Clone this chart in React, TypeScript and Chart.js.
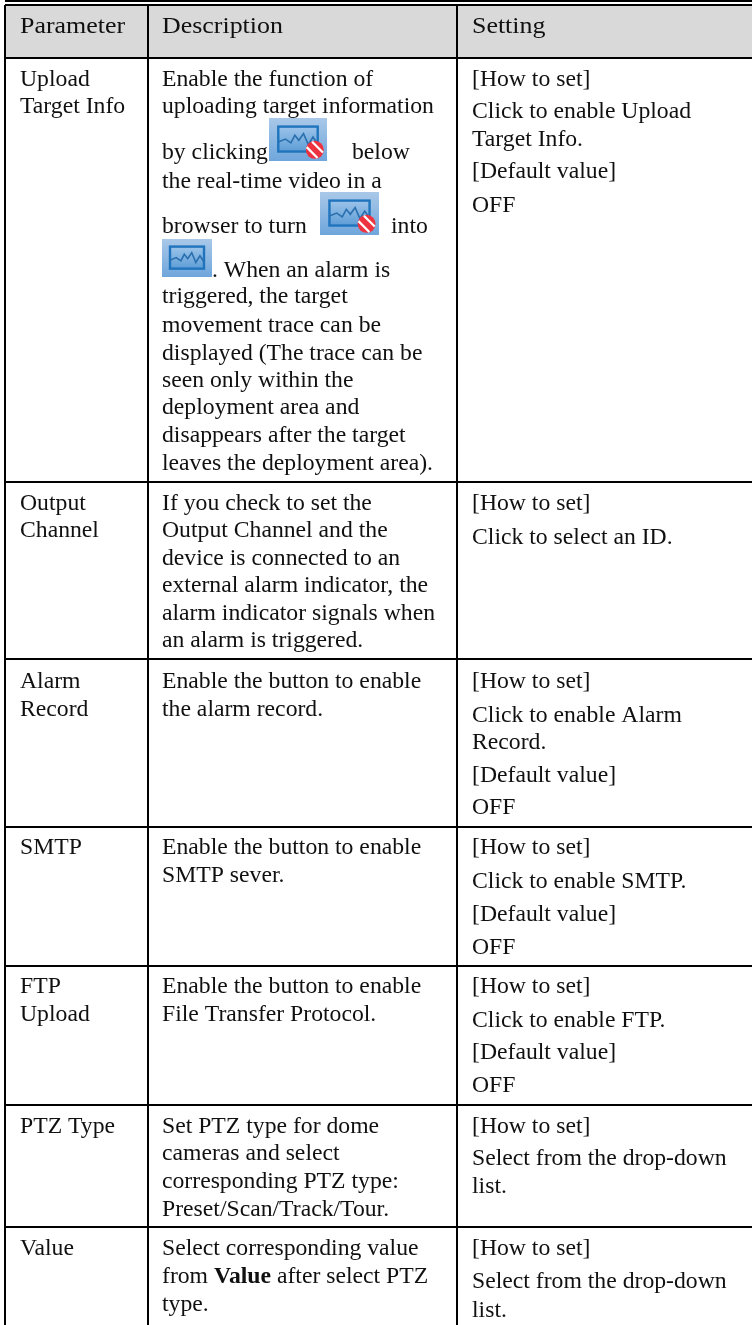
import React, { useEffect, useRef } from "react";
import { Chart, registerables } from "chart.js";

Chart.register(...registerables);

// ---- table content ----
const headers = ["Parameter", "Description", "Setting"];
const parameterLines = [
  ["Upload", "Target Info"],
  ["Output", "Channel"],
  ["Alarm", "Record"],
  ["SMTP"],
  ["FTP", "Upload"],
  ["PTZ Type"],
  ["Value"],
];
const descriptionLines = [
  [
    "Enable the function of",
    "uploading target information",
    "by clicking",
    "below",
    "the real-time video in a",
    "browser to turn",
    "into",
    ". When an alarm is",
    "triggered, the target",
    "movement trace can be",
    "displayed (The trace can be",
    "seen only within the",
    "deployment area and",
    "disappears after the target",
    "leaves the deployment area).",
  ],
  [
    "If you check to set the",
    "Output Channel and the",
    "device is connected to an",
    "external alarm indicator, the",
    "alarm indicator signals when",
    "an alarm is triggered.",
  ],
  ["Enable the button to enable", "the alarm record."],
  ["Enable the button to enable", "SMTP sever."],
  ["Enable the button to enable", "File Transfer Protocol."],
  [
    "Set PTZ type for dome",
    "cameras and select",
    "corresponding PTZ type:",
    "Preset/Scan/Track/Tour.",
  ],
  ["Select corresponding value", "from *Value* after select PTZ", "type."],
];
const settingLines = [
  ["[How to set]", "Click to enable Upload", "Target Info.", "[Default value]", "OFF"],
  ["[How to set]", "Click to select an ID."],
  ["[How to set]", "Click to enable Alarm", "Record.", "[Default value]", "OFF"],
  ["[How to set]", "Click to enable SMTP.", "[Default value]", "OFF"],
  ["[How to set]", "Click to enable FTP.", "[Default value]", "OFF"],
  ["[How to set]", "Select from the drop-down", "list."],
  ["[How to set]", "Select from the drop-down", "list."],
];

// ---- layout, on axes that run in page pixels ----
const columnEdges = [5, 147.5, 456.5];
const rowEdges = [5, 58, 482, 659, 827, 966, 1105, 1227];
const headerBaseline = 33;
const columnTextX = [20, 162, 472];
const parameterBaselines = [[86, 113], [510, 537], [688, 716], [854], [993, 1021], [1133], [1255]];
const descriptionBaselines = [
  [86, 113, 159, 159, 188, 233, 233, 277, 303, 332, 360, 387, 414, 442, 470],
  [510, 537, 565, 592, 620, 647],
  [688, 716],
  [854, 882],
  [993, 1021],
  [1133, 1160, 1188, 1216],
  [1255, 1283, 1311],
];
const descriptionOffsets: Record<string, number> = { below: 352, into: 391, ". When an alarm is": 212 };
const settingBaselines = [
  [86, 118, 146, 178, 212],
  [510, 544],
  [688, 722, 749, 782, 814],
  [854, 888, 921, 954],
  [993, 1027, 1059, 1092],
  [1133, 1165, 1193],
  [1255, 1288, 1317],
];
const iconBoxes = [
  { x: 269, y: 118, w: 58, h: 43, blocked: true },
  { x: 320, y: 192, w: 59, h: 43, blocked: true },
  { x: 162, y: 239, w: 50, h: 38, blocked: false },
];
// trace of the icon, as fractions of the icon's inner screen
const iconTraceX = [0, 0.18, 0.32, 0.42, 0.52, 0.64, 0.76, 0.88, 1];
const iconTraceY = [0.62, 0.5, 0.65, 0.35, 0.55, 0.28, 0.72, 0.42, 0.7];

const FONT = '"Liberation Serif"';
const BODY_SIZE = 23;
const BODY_STRETCH = 1.03;
const HEAD_SIZE = 24;
const HEAD_STRETCH = 1.08;
const INK = "#101010";

function drawRuns(ctx: CanvasRenderingContext2D, text: string, x: number, y: number, size: number, stretch: number) {
  ctx.save();
  ctx.translate(x, y);
  ctx.scale(stretch, 1);
  ctx.fillStyle = INK;
  ctx.textBaseline = "alphabetic";
  ctx.textAlign = "left";
  let cursor = 0;
  text.split("*").forEach((run, i) => {
    ctx.font = `${i % 2 ? "bold " : ""}${size}px ${FONT}`;
    ctx.fillText(run, cursor, 0);
    cursor += ctx.measureText(run).width;
  });
  ctx.restore();
}

function drawIcon(ctx: CanvasRenderingContext2D, x: number, y: number, w: number, h: number, blocked: boolean) {
  const bg = ctx.createLinearGradient(x, y, x, y + h);
  bg.addColorStop(0, "#a9c8e8");
  bg.addColorStop(1, "#6fa6dc");
  ctx.fillStyle = bg;
  ctx.fillRect(x, y, w, h);
  const sx = x + w * 0.16;
  const sy = y + h * 0.2;
  const sw = w * 0.68;
  const sh = h * 0.58;
  const fill = ctx.createLinearGradient(sx, sy, sx, sy + sh);
  fill.addColorStop(0, "#9cc4ea");
  fill.addColorStop(1, "#5e9dd6");
  ctx.fillStyle = fill;
  ctx.fillRect(sx, sy, sw, sh);
  ctx.strokeStyle = "#1f74bd";
  ctx.lineWidth = 2.4;
  ctx.strokeRect(sx, sy, sw, sh);
  ctx.strokeStyle = "#2a6fae";
  ctx.lineWidth = 1.6;
  ctx.beginPath();
  iconTraceX.forEach((fx, i) => {
    const px = sx + fx * sw;
    const py = sy + iconTraceY[i] * sh;
    if (i === 0) ctx.moveTo(px, py);
    else ctx.lineTo(px, py);
  });
  ctx.stroke();
  if (blocked) {
    const cx = x + w * 0.79;
    const cy = y + h * 0.74;
    const r = h * 0.21;
    ctx.fillStyle = "#ee3340";
    ctx.beginPath();
    ctx.arc(cx, cy, r, 0, Math.PI * 2);
    ctx.fill();
    ctx.strokeStyle = "#ffffff";
    ctx.lineWidth = 2.2;
    [-0.3, 0.3].forEach((o) => {
      ctx.beginPath();
      ctx.moveTo(cx - r * 0.6 + o * r, cy - r * 0.6 - o * r);
      ctx.lineTo(cx + r * 0.6 + o * r, cy + r * 0.6 - o * r);
      ctx.stroke();
    });
  }
}

const tablePlugin = {
  id: "tableCells",
  beforeDatasetsDraw(chart: any) {
    const { ctx, scales } = chart;
    // doubled top rule
    ctx.fillStyle = "#000";
    ctx.fillRect(scales.x.left, 0, scales.x.right - scales.x.left, 2);
  },
  afterDatasetsDraw(chart: any) {
    const { ctx, scales } = chart;
    const px = (v: number) => scales.x.getPixelForValue(v);
    const py = (v: number) => scales.y.getPixelForValue(v);
    headers.forEach((h, i) => drawRuns(ctx, h, px(columnTextX[i]), py(headerBaseline), HEAD_SIZE, HEAD_STRETCH));
    const cells: [string[][], number[][], number][] = [
      [parameterLines, parameterBaselines, 0],
      [descriptionLines, descriptionBaselines, 1],
      [settingLines, settingBaselines, 2],
    ];
    cells.forEach(([lines, baselines, col]) => {
      lines.forEach((row, r) =>
        row.forEach((text, l) => {
          const x = col === 1 && descriptionOffsets[text] !== undefined ? descriptionOffsets[text] : columnTextX[col];
          drawRuns(ctx, text, px(x), py(baselines[r][l]), BODY_SIZE, BODY_STRETCH);
        }),
      );
    });
    iconBoxes.forEach((b) => drawIcon(ctx, px(b.x), py(b.y), b.w, b.h, b.blocked));
  },
  beforeDraw(chart: any) {
    const { ctx, scales } = chart;
    const x = scales.x;
    const y = scales.y;
    ctx.fillStyle = "#ffffff";
    ctx.fillRect(0, 0, 752, 1325);
    ctx.fillStyle = "#d9d9d9";
    ctx.fillRect(x.left, y.getPixelForValue(rowEdges[0]), x.right - x.left, y.getPixelForValue(rowEdges[1]) - y.getPixelForValue(rowEdges[0]));
  },
};

export default function App() {
  const ref = useRef<HTMLCanvasElement>(null);
  useEffect(() => {
    document.body.style.margin = "0";
    const chart = new Chart(ref.current as HTMLCanvasElement, {
      type: "scatter",
      data: { datasets: [{ data: [] }] },
      options: {
        animation: false,
        responsive: false,
        devicePixelRatio: 1,
        layout: { padding: { left: 5, top: 5, right: 0, bottom: 0 } },
        plugins: { legend: { display: false }, tooltip: { enabled: false }, title: { display: false } },
        scales: {
          x: {
            type: "linear",
            min: 5,
            max: 752,
            border: { display: false },
            ticks: { display: false },
            grid: { color: "#000000", lineWidth: 2, drawTicks: false },
            afterBuildTicks: (s: any) => {
              s.ticks = columnEdges.map((value) => ({ value }));
            },
          },
          y: {
            type: "linear",
            min: 5,
            max: 1325,
            reverse: true,
            border: { display: false },
            ticks: { display: false },
            grid: { color: "#000000", lineWidth: 2, drawTicks: false },
            afterBuildTicks: (s: any) => {
              s.ticks = rowEdges.map((value) => ({ value }));
            },
          },
        },
      },
      plugins: [tablePlugin],
    } as any);
    return () => chart.destroy();
  }, []);
  return <canvas ref={ref} width={752} height={1325} style={{ display: "block" }} />;
}
